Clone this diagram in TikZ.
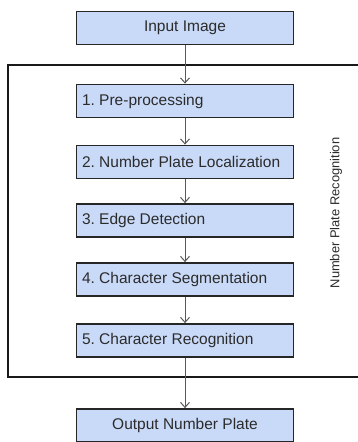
\documentclass[tikz,border=0pt]{standalone}
\usepackage{fontspec}
\setmainfont{Liberation Sans}
\frenchspacing
\hyphenpenalty=10000
\usetikzlibrary{arrows.meta}
\definecolor{boxfill}{HTML}{C9DAF8}
\definecolor{txt}{HTML}{2B2B2B}
\definecolor{arr}{HTML}{595959}
\begin{document}
\begin{tikzpicture}[x=1pt,y=-1pt,
  stagebox/.style={draw=black!85,line width=1.8pt,fill=boxfill,minimum width=217pt,minimum height=33pt,inner sep=0pt,font=\fontsize{15.5}{18}\selectfont,text=txt},
  leftbox/.style={stagebox,text width=206pt,align=flush left},
  flow/.style={draw=arr,line width=1pt,-{Straight Barb[length=5pt,width=9pt]}}]
\useasboundingbox (0,0) rectangle (357,442);
\draw[line width=1.5pt,black!90] (362,65) -- (8,65) -- (8,377) -- (362,377);
\node[stagebox] (in) at (185,28) {Input Image};
\node[leftbox] (s1) at (185,101) {1. Pre-processing};
\node[leftbox] (s2) at (185,162) {2. Number Plate Localization};
\node[leftbox] (s3) at (185,220.5) {3. Edge Detection};
\node[leftbox] (s4) at (185,279.5) {4. Character Segmentation};
\node[leftbox] (s5) at (185,340.5) {5. Character Recognition};
\node[stagebox] (out) at (185,425.5) {Output Number Plate};
\node[rotate=90,font=\fontsize{12.9}{15}\selectfont,text=txt] (lbl) at (336,213) {Number Plate Recognition};
\draw[flow] (in) -- (s1);
\draw[flow] (s1) -- (s2);
\draw[flow] (s2) -- (s3);
\draw[flow] (s3) -- (s4);
\draw[flow] (s4) -- (s5);
\draw[flow] (s5) -- (out);
\end{tikzpicture}
\end{document}
